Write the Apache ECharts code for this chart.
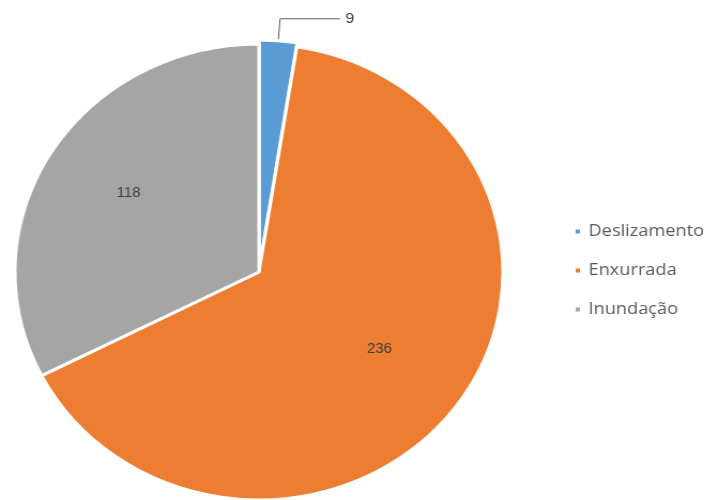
<!DOCTYPE html>
<html><head><meta charset="utf-8">
<script src="https://cdn.jsdelivr.net/npm/echarts@6/dist/echarts.min.js"></script>
<style>html,body{margin:0;padding:0;background:#fff;overflow:hidden}
#c{width:673px;height:500px;transform:scaleX(1.07);transform-origin:0 0}</style>
</head><body><div id="c"></div>
<script>
const categories = ['Deslizamento', 'Enxurrada', 'Inundação'];
const values = [9, 236, 118];
const colors = ['#5B9BD5', '#ED7D31', '#A5A5A5'];

const chart = echarts.init(document.getElementById('c'));
chart.setOption({
  animation: false,
  color: colors,
  legend: {
    orient: 'vertical',
    left: 531, top: 218,
    itemWidth: 6, itemHeight: 6, itemGap: 22,
    icon: 'rect',
    textStyle: { color: '#595959', fontSize: 17, fontFamily: 'Open Sans', padding: [0, 0, 0, 2] },
    data: categories
  },
  series: [{
    type: 'pie',
    center: [242, 272],
    radius: [0, 228],
    startAngle: 90,
    clockwise: true,
    selectedMode: 'multiple',
    selectedOffset: 4,
    itemStyle: { borderColor: '#fff', borderWidth: 3 },
    data: categories.map((n, i) => {
      const d = { name: n, value: values[i] };
      if (i === 0) {
        d.selected = true;
        d.label = { position: 'outside', distance: 6, fontSize: 15 };
        d.labelLine = { show: true, length: 22, length2: 56, lineStyle: { color: '#595959', width: 1 } };
      } else {
        d.label = { position: 'inside', offset: i === 1 ? [18, 8] : [-22, -18] };
        d.labelLine = { show: false };
      }
      return d;
    }),
    label: { color: '#404040', fontSize: 14, fontFamily: 'Liberation Sans', formatter: '{c}' },
    emphasis: { disabled: true }
  }]
});
</script></body></html>
